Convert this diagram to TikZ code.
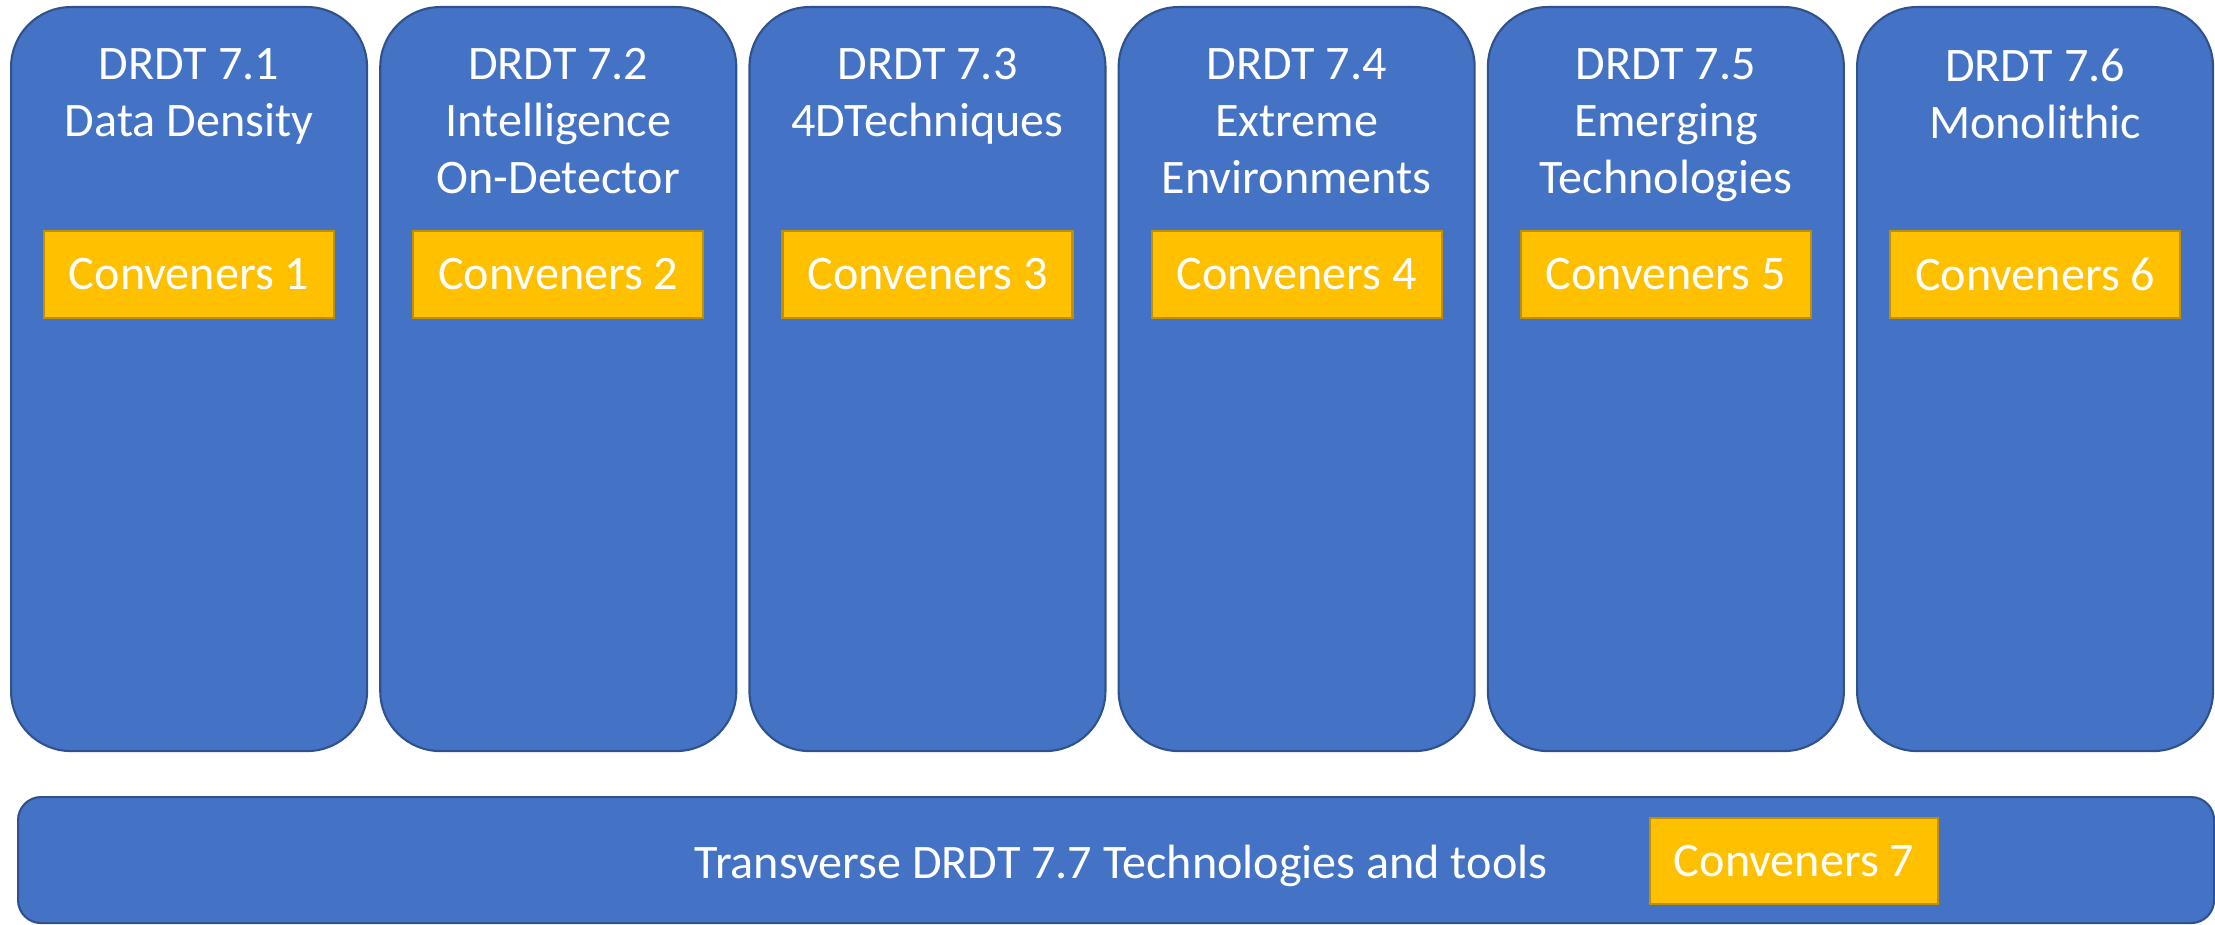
\documentclass[tikz,border=0pt]{standalone}
\usepackage{fontspec}
\setmainfont{Carlito}
\definecolor{wgblue}{HTML}{4472C4}
\definecolor{wgedge}{HTML}{2F528F}
\definecolor{cvgold}{HTML}{FFC000}
\definecolor{cvedge}{HTML}{BF9000}

\begin{document}
\begin{tikzpicture}[
  wg/.style={draw=wgedge,line width=0.6pt,fill=wgblue,rounded corners=0.6cm,minimum width=3.56cm,minimum height=7.44cm,anchor=north west,inner sep=0pt},
  wgtitle/.style={text=white,font=\fontsize{13.7}{16.2}\selectfont,align=center,anchor=north,inner sep=0pt},
  conv/.style={draw=cvedge,line width=0.6pt,fill=cvgold,text=white,font=\fontsize{13.7}{16.2}\selectfont,minimum width=2.9cm,minimum height=0.87cm,inner sep=0pt}]
  \useasboundingbox (0,0) rectangle (22.15,-9.24);
  % Working groups 7.1 - 7.6
  \foreach \i/\name in {1/{Data Density},2/{Intelligence\\On-Detector},3/{4DTechniques},4/{Extreme\\Environments},5/{Emerging\\Technologies},6/{Monolithic}}{
    \node[wg] (c\i) at ({0.10+(\i-1)*3.692},-0.06) {};
    \node[wgtitle] (t\i) at ([yshift=-0.42cm]c\i.north) {DRDT 7.\i\\\name};
    \node[conv] (v\i) at ([yshift=-2.685cm]c\i.north) {Conveners \i};
  }
  % Transverse bar
  \node[draw=wgedge,line width=0.6pt,fill=wgblue,rounded corners=0.23cm,minimum width=21.96cm,minimum height=1.26cm,anchor=north west,inner sep=0pt] (bar) at (0.17,-7.96) {};
  \node[text=white,font=\fontsize{13.7}{16.2}\selectfont,anchor=base,inner sep=0pt] (bartext) at (11.21,-8.78) {Transverse DRDT 7.7 Technologies and tools};
  \node[conv,minimum width=2.88cm,minimum height=0.86cm] (v7) at (17.94,-8.61) {Conveners 7};
\end{tikzpicture}
\end{document}
